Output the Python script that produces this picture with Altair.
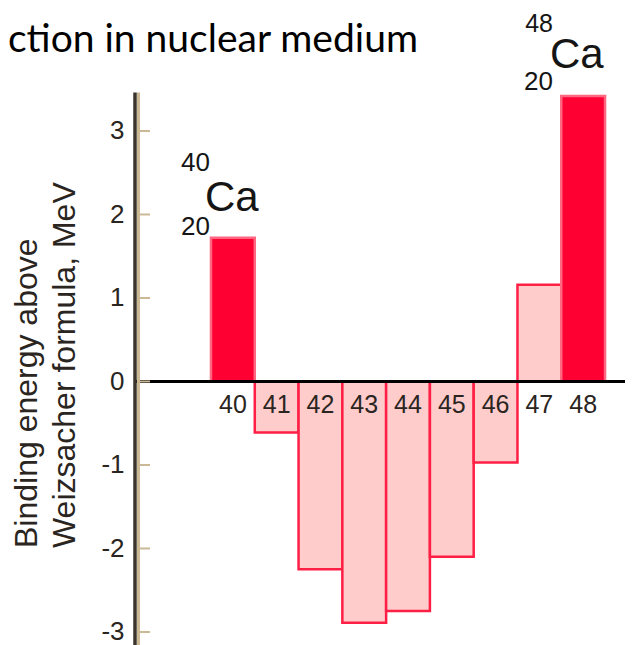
import altair as alt
import pandas as pd

# ---- data ----
mass_numbers = [40, 41, 42, 43, 44, 45, 46, 47, 48]
binding_excess = [1.72, -0.61, -2.25, -2.89, -2.75, -2.10, -0.97, 1.16, 3.42]
doubly_magic = [True, False, False, False, False, False, False, False, True]
y_ticks = [-3, -2, -1, 0, 1, 2, 3]
title_text = "ction in nuclear medium"
y_title_lines = ["Binding energy above", "Weizsacher formula, MeV"]

df = pd.DataFrame({"A": mass_numbers, "E": binding_excess, "magic": doubly_magic})
df["x0"] = df["A"] - 0.5
df["x1"] = df["A"] + 0.5
df["label"] = df["A"].astype(str)

W, H = 489, 637
xs = alt.Scale(domain=[37.787, 48.956], nice=False, zero=False)
ys = alt.Scale(domain=[-3.156, 4.473], nice=False, zero=False)

one = pd.DataFrame({"k": [0]})
INK = "#2a2520"

bars = alt.Chart(df).mark_bar(strokeWidth=2.5).encode(
    x=alt.X("x0:Q", scale=xs, axis=None),
    x2="x1:Q",
    y=alt.Y(
        "E:Q",
        scale=ys,
        axis=alt.Axis(
            values=y_ticks, domain=False, ticks=False, grid=False,
            labelPadding=12, labelFont="Liberation Sans", labelFontSize=26,
            labelColor=INK, labelExpr="'' + datum.value", title=None,
        ),
    ),
    y2=alt.datum(0),
    fill=alt.condition("datum.magic", alt.value("#FF0033"), alt.value("#FFCCCC")),
    stroke=alt.condition("datum.magic", alt.value("#FF6680"), alt.value("#FF1F45")),
)

bar_labels = alt.Chart(df).mark_text(
    font="Liberation Sans", fontSize=25, baseline="alphabetic", dy=32, color=INK
).encode(x=alt.X("A:Q", scale=xs), y=alt.datum(0), text="label:N")

zero_line = alt.Chart(one).mark_rule(color="black", strokeWidth=3).encode(
    y=alt.datum(0), x=alt.value(0), x2=alt.value(W)
)

axis_dark = alt.Chart(one).mark_rule(color="#3a342c", strokeWidth=3.5).encode(
    x=alt.value(-1), y=alt.datum(3.46), y2=alt.datum(-3.156)
)
axis_tan = alt.Chart(one).mark_rule(color="#cbb996", strokeWidth=3).encode(
    x=alt.value(2.5), y=alt.datum(3.46), y2=alt.datum(-3.156)
)
ticks = alt.Chart(pd.DataFrame({"t": y_ticks})).mark_rule(color="#cbb996", strokeWidth=2).encode(
    y=alt.Y("t:Q", scale=ys), x=alt.value(2), x2=alt.value(14)
)


def ptext(s, x, y, size, font="Liberation Sans", color=INK, angle=0, baseline="alphabetic"):
    return alt.Chart(one).mark_text(
        text=s, fontSize=size, font=font, align="left", baseline=baseline,
        color=color, angle=angle,
    ).encode(x=alt.value(x), y=alt.value(y))


def dtext(s, x, y, size, align="left"):
    return alt.Chart(one).mark_text(
        text=s, fontSize=size, font="Liberation Sans", align=align,
        baseline="alphabetic", color="#151515",
    ).encode(x=alt.datum(x), y=alt.datum(y))


title = ptext(title_text, -128, 44, 39, font="Lato", color="black")
ytitle1 = ptext(y_title_lines[0], -109, 540, 32, angle=270, baseline="middle")
ytitle2 = ptext(y_title_lines[1], -71, 540, 32, angle=270, baseline="middle")

ca40 = [
    dtext("40", 39.477, 2.52, 26, align="right"),
    dtext("Ca", 39.363, 2.04, 42),
    dtext("20", 39.477, 1.75, 26, align="right"),
]
ca48 = [
    dtext("48", 47.312, 4.19, 25, align="right"),
    dtext("Ca", 47.243, 3.75, 42),
    dtext("20", 47.312, 3.49, 26, align="right"),
]

chart = alt.layer(
    bars, zero_line, bar_labels, axis_tan, ticks, axis_dark,
    title, ytitle1, ytitle2, *ca40, *ca48,
).properties(
    width=W, height=H,
    autosize=alt.AutoSizeParams(type="none"),
    padding={"left": 128, "top": 0, "right": 0, "bottom": 0},
).configure_view(stroke=None)

chart.save("out.html", embed_options={"renderer": "svg", "actions": False})
